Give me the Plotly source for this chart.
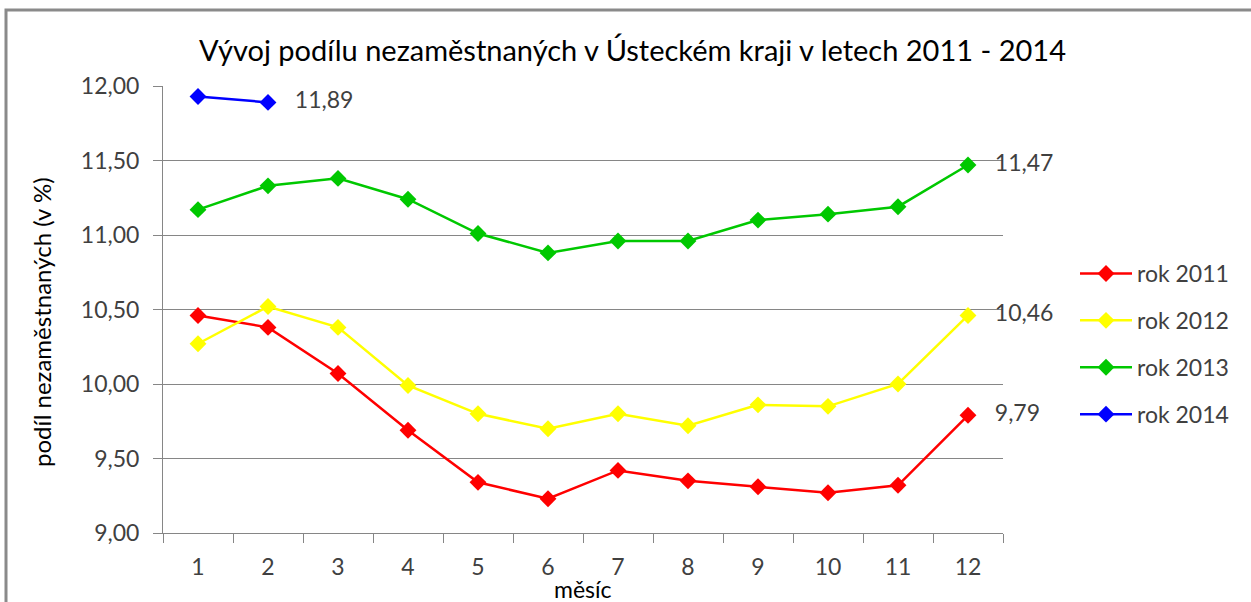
import plotly.graph_objects as go

months = ["1", "2", "3", "4", "5", "6", "7", "8", "9", "10", "11", "12"]
rok_2011 = [10.46, 10.38, 10.07, 9.69, 9.34, 9.23, 9.42, 9.35, 9.31, 9.27, 9.32, 9.79]
rok_2012 = [10.27, 10.52, 10.38, 9.99, 9.80, 9.70, 9.80, 9.72, 9.86, 9.85, 10.00, 10.46]
rok_2013 = [11.17, 11.33, 11.38, 11.24, 11.01, 10.88, 10.96, 10.96, 11.10, 11.14, 11.19, 11.47]
rok_2014 = [11.93, 11.89]

series = [
    ("rok 2011", rok_2011, "#FF0000"),
    ("rok 2012", rok_2012, "#FFFF00"),
    ("rok 2013", rok_2013, "#00C800"),
    ("rok 2014", rok_2014, "#0000FF"),
]

FONT = "Lato"
W, H = 1251, 602
L, R, T, B = 163, 248, 86, 69
pw, ph = W - L - R, H - T - B

def px2x(px):
    return (px - L) / pw

def px2y(py):
    return (H - B - py) / ph

fig = go.Figure()
for i, (name, vals, col) in enumerate(series):
    last = f"{vals[-1]:.2f}".replace(".", ",")
    labels = [""] * (len(vals) - 1) + ["\u00a0\u00a0\u00a0" + last]
    fig.add_trace(go.Scatter(
        x=months[:len(vals)], y=vals, name=name, mode="lines+markers+text",
        line=dict(color=col, width=2.5),
        marker=dict(symbol="diamond", size=13, color=col),
        text=labels, textposition="middle right",
        textfont=dict(family=FONT, size=23, color="#404040"),
        legendgroup=name, cliponaxis=False,
    ))

fig.update_layout(
    width=W, height=H,
    margin=dict(l=L, r=R, t=T, b=B),
    paper_bgcolor="white", plot_bgcolor="white",
    separators=", ",
    showlegend=True,
    legend=dict(
        x=px2x(1075), y=px2y(252), xanchor="left", yanchor="top",
        font=dict(family=FONT, size=23, color="#404040"),
        traceorder="grouped", tracegroupgap=14, itemwidth=52,
        bgcolor="rgba(0,0,0,0)",
    ),
    xaxis=dict(
        type="category", tickson="boundaries", showgrid=False,
        showline=True, linecolor="#868686", linewidth=1,
        ticks="outside", ticklen=9, tickcolor="#868686",
        ticklabelstandoff=13,
        tickfont=dict(family=FONT, size=23, color="#404040"),
        range=[-0.5, 11.5], fixedrange=True,
    ),
    yaxis=dict(
        range=[9, 12], dtick=0.5, tickformat=".2f",
        showgrid=True, gridcolor="#868686", gridwidth=1,
        showline=True, linecolor="#868686", linewidth=1,
        ticks="outside", ticklen=9, tickcolor="#868686",
        ticklabelstandoff=9,
        tickfont=dict(family=FONT, size=23, color="#404040"),
        zeroline=False,
    ),
    annotations=[
        dict(text="Vývoj podílu nezaměstnaných v Ústeckém kraji v letech 2011 - 2014",
             xref="paper", yref="paper", x=px2x(632), y=px2y(50),
             xanchor="center", yanchor="middle", showarrow=False,
             font=dict(family=FONT, size=29, color="#000000")),
        dict(text="podíl nezaměstnaných (v %)",
             xref="paper", yref="paper", x=px2x(41), y=px2y(322),
             xanchor="center", yanchor="middle", showarrow=False, textangle=-90,
             font=dict(family=FONT, size=24, color="#000000")),
        dict(text="měsíc",
             xref="paper", yref="paper", x=px2x(583), y=px2y(589),
             xanchor="center", yanchor="middle", showarrow=False,
             font=dict(family=FONT, size=23, color="#000000")),
    ],
    shapes=[
        dict(type="rect", xref="paper", yref="paper",
             x0=px2x(6), x1=px2x(1300), y0=px2y(10), y1=px2y(660),
             line=dict(color="#8a8a8a", width=3), layer="below"),
    ],
)

fig.write_html("out.html", config={"displayModeBar": False},
               post_script="document.body.style.margin='0';document.body.style.overflow='hidden';")
